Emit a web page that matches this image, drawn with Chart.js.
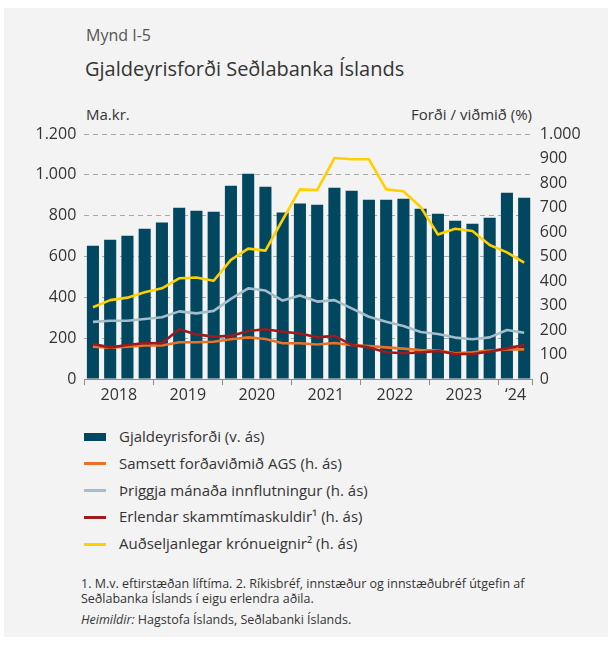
<!DOCTYPE html>
<html>
<head>
<meta charset="utf-8">
<script src="https://cdn.jsdelivr.net/npm/chart.js@4.4.1/dist/chart.umd.min.js"></script>
<style>
  html, body { margin: 0; padding: 0; background: #ffffff; }
  body { width: 612px; height: 646px; position: relative; overflow: hidden; font-family: "Open Sans", "Noto Sans", sans-serif; color: #333; }
  #panel { position: absolute; left: 4px; top: 8px; width: 604px; height: 629px; background: #f3f3f3; }
  #wrap { position: absolute; left: 0; top: 0; width: 612px; height: 420px; }
  .t { position: absolute; white-space: nowrap; line-height: 1; }
  #legend { position: absolute; left: 84px; top: 427px; }
  .li { position: relative; height: 26.8px; }
  .sw { position: absolute; left: 0; width: 22px; }
  .lt { position: absolute; left: 35px; top: 2px; font-size: 15px; line-height: 1; white-space: nowrap; color: #333; }
</style>
</head>
<body>
<div id="panel"></div>
<div class="t" id="t1" style="left:86px; top:27px; font-size:16px; color:#555;">Mynd I-5</div>
<div class="t" id="t2" style="left:85px; top:59px; font-size:20px; color:#333;">Gjaldeyrisforði Seðlabanka Íslands</div>
<div class="t" style="left:86px; top:107px; font-size:15px; color:#333;">Ma.kr.</div>
<div class="t" style="right:80px; top:107px; font-size:15px; color:#333;">Forði / viðmið (%)</div>
<div id="wrap"><canvas id="c" width="612" height="420"></canvas></div>
<div id="legend"></div>
<div class="t" style="left:81px; top:577px; font-size:12.5px; line-height:14.5px; color:#333;">1. M.v. eftirstæðan líftíma. 2. Ríkisbréf, innstæður og innstæðubréf útgefin af<br>Seðlabanka Íslands í eigu erlendra aðila.</div>
<div class="t" style="left:81px; top:614px; font-size:12.5px; color:#333;"><i>Heimildir:</i> Hagstofa Íslands, Seðlabanki Íslands.</div>
<script>
// ---- Data ----
const quarters = [
  '2018Q1','2018Q2','2018Q3','2018Q4',
  '2019Q1','2019Q2','2019Q3','2019Q4',
  '2020Q1','2020Q2','2020Q3','2020Q4',
  '2021Q1','2021Q2','2021Q3','2021Q4',
  '2022Q1','2022Q2','2022Q3','2022Q4',
  '2023Q1','2023Q2','2023Q3','2023Q4',
  '2024Q1','2024Q2'
];
// year label shown at index (label is offset half a category to the left)
const yearLabelIndex = [2, 6, 10, 14, 18, 22, 25];
const yearLabels = ['2018', '2019', '2020', '2021', '2022', '2023', '\u201824'];

const seriesNames = [
  'Gjaldeyrisforði (v. ás)',
  'Samsett forðaviðmið AGS (h. ás)',
  'Þriggja mánaða innflutningur (h. ás)',
  'Erlendar skammtímaskuldir\u00B9 (h. ás)',
  'Auðseljanlegar krónueignir\u00B2 (h. ás)'
];

// Gjaldeyrisforði, ma.kr. (left axis)
const reserves = [653, 682, 702, 736, 766, 839, 824, 819, 947, 1005, 942, 815, 859, 854, 937, 922, 878, 878, 883, 834, 810, 775, 761, 790, 912, 888];
// Forði / viðmið (%) (right axis)
const imfMetric = [132, 128, 132, 137, 137, 150, 150, 152, 162, 170, 163, 146, 146, 141, 147, 139, 135, 129, 124, 118, 116, 105, 109, 116, 121, 121];
const importsCover = [233, 238, 238, 245, 252, 276, 268, 278, 327, 370, 361, 320, 341, 316, 322, 288, 254, 234, 216, 192, 184, 169, 162, 170, 200, 189];
const shortTermDebt = [143, 129, 139, 147, 146, 203, 182, 173, 176, 196, 203, 193, 186, 170, 176, 139, 129, 109, 105, 108, 114, 102, 102, 112, 125, 139];
const liquidKronaAssets = [293, 322, 332, 354, 370, 411, 414, 401, 486, 532, 524, 650, 774, 771, 902, 897, 897, 774, 766, 702, 590, 613, 604, 547, 517, 475];

const leftTicksMax = 1200, leftStep = 200;
const rightTicksMax = 1000, rightStep = 100;

// ---- Styles ----
const colors = ['#00475f', '#ea7125', '#a5bccb', '#9b1b1f', '#ffd000'];
const FONT = '"Open Sans", "Noto Sans", sans-serif';
const fmt = v => String(v).replace(/\B(?=(\d{3})+(?!\d))/g, '.');

function lineDs(i, data, order) {
  return {
    type: 'line', label: seriesNames[i], data: data, yAxisID: 'y1',
    borderColor: colors[i], backgroundColor: colors[i], borderWidth: 2.6,
    pointRadius: 0, pointHoverRadius: 0, tension: 0, fill: false, order: order,
    borderJoinStyle: 'round', borderCapStyle: 'butt'
  };
}

const chart = new Chart(document.getElementById('c'), {
  data: {
    labels: quarters,
    datasets: [
      { type: 'bar', label: seriesNames[0], data: reserves, yAxisID: 'y', backgroundColor: colors[0],
        barPercentage: 0.7, categoryPercentage: 1.0, order: 10 },
      lineDs(1, imfMetric, 4),
      lineDs(2, importsCover, 5),
      lineDs(3, shortTermDebt, 3),
      lineDs(4, liquidKronaAssets, 1)
    ]
  },
  options: {
    responsive: false, animation: false, devicePixelRatio: 1,
    layout: { padding: { top: 134, left: 0, right: 0, bottom: 8 } },
    plugins: { legend: { display: false }, tooltip: { enabled: false }, title: { display: false } },
    scales: {
      x: {
        type: 'category', offset: true,
        grid: {
          offset: true, drawOnChartArea: false, tickLength: 6, lineWidth: 1,
          color: ctx => (ctx.type !== 'tick' || ctx.index % 4 === 0) ? '#8c8c8c' : 'rgba(0,0,0,0)'
        },
        border: { display: true, color: '#8c8c8c', width: 1 },
        ticks: {
          autoSkip: false, maxRotation: 0, minRotation: 0, labelOffset: -8.625, padding: 1,
          color: '#333', font: { family: FONT, size: 16 },
          callback: (v, i) => { const k = yearLabelIndex.indexOf(i); return k >= 0 ? yearLabels[k] : ''; }
        },
        afterFit: s => { s.height = 33; }
      },
      y: {
        position: 'left', min: 0, max: leftTicksMax,
        ticks: { stepSize: leftStep, padding: 8, color: '#333', font: { family: FONT, size: 16 }, callback: v => fmt(v) },
        grid: { drawTicks: false, lineWidth: 1, color: ctx => (ctx.tick && ctx.tick.value === 0) ? 'rgba(0,0,0,0)' : '#a8a8a8' },
        border: { display: false, dash: [5, 4] },
        afterFit: s => { s.width = 84.3; }
      },
      y1: {
        position: 'right', min: 0, max: rightTicksMax,
        ticks: { stepSize: rightStep, padding: 7, color: '#333', font: { family: FONT, size: 16 }, callback: v => fmt(v) },
        grid: { display: false, drawTicks: false },
        border: { display: false },
        afterFit: s => { s.width = 79.2; }
      }
    }
  }
});

// ---- HTML legend built from the chart's datasets ----
const legend = document.getElementById('legend');
chart.data.datasets.forEach((ds, i) => {
  const row = document.createElement('div');
  row.className = 'li';
  const sw = document.createElement('div');
  sw.className = 'sw';
  if (ds.type === 'bar') { sw.style.top = '6px'; sw.style.height = '8px'; }
  else { sw.style.top = '8.5px'; sw.style.height = '3px'; }
  sw.style.background = ds.type === 'bar' ? ds.backgroundColor : ds.borderColor;
  const tx = document.createElement('div');
  tx.className = 'lt';
  tx.textContent = ds.label;
  row.appendChild(sw); row.appendChild(tx);
  legend.appendChild(row);
});
</script>
</body>
</html>
